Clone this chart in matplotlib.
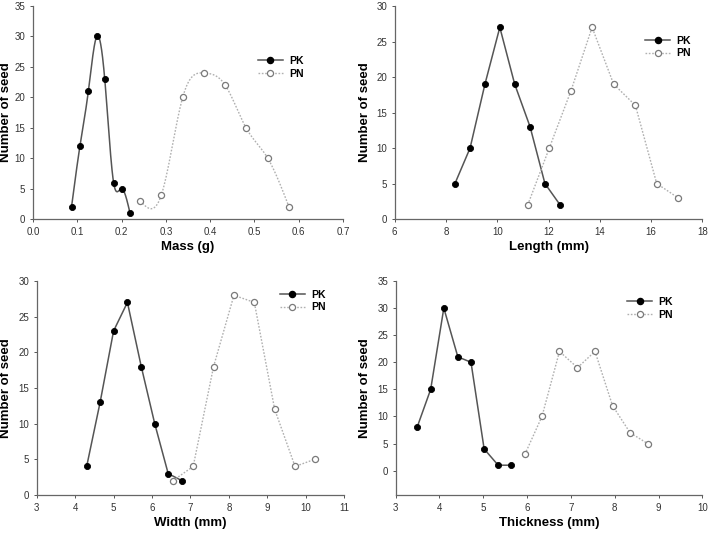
import numpy as np
import matplotlib
matplotlib.use("Agg")
import matplotlib.pyplot as plt

plt.rcParams['font.family'] = ['Liberation Sans', 'DejaVu Sans']

# ---- data ----
mass_pk_x = [0.087, 0.106, 0.125, 0.144, 0.162, 0.182, 0.200, 0.219]
mass_pk_y = [2, 12, 21, 30, 23, 6, 5, 1]
mass_pn_x = [0.242, 0.290, 0.338, 0.385, 0.434, 0.481, 0.530, 0.578]
mass_pn_y = [3, 4, 20, 24, 22, 15, 10, 2]

len_pk_x = [8.35, 8.94, 9.52, 10.10, 10.68, 11.28, 11.86, 12.45]
len_pk_y = [5, 10, 19, 27, 19, 13, 5, 2]
len_pn_x = [11.19, 12.03, 12.87, 13.70, 14.54, 15.39, 16.22, 17.05]
len_pn_y = [2, 10, 18, 27, 19, 16, 5, 3]

wid_pk_x = [4.30, 4.65, 5.00, 5.36, 5.72, 6.07, 6.42, 6.78]
wid_pk_y = [4, 13, 23, 27, 18, 10, 3, 2]
wid_pn_x = [6.54, 7.07, 7.60, 8.13, 8.66, 9.19, 9.72, 10.23]
wid_pn_y = [2, 4, 18, 28, 27, 12, 4, 5]

thk_pk_x = [3.49, 3.80, 4.10, 4.42, 4.72, 5.02, 5.34, 5.64]
thk_pk_y = [8, 15, 30, 21, 20, 4, 1, 1]
thk_pn_x = [5.95, 6.34, 6.74, 7.15, 7.55, 7.95, 8.35, 8.75]
thk_pn_y = [3, 10, 22, 19, 22, 12, 7, 5]

labels = ["PK", "PN"]


def natural_spline(x, y, n=300):
    x = np.asarray(x, float)
    y = np.asarray(y, float)
    m = len(x)
    h = np.diff(x)
    A = np.zeros((m, m))
    b = np.zeros(m)
    A[0, 0] = 1
    A[-1, -1] = 1
    for i in range(1, m - 1):
        A[i, i - 1] = h[i - 1]
        A[i, i] = 2 * (h[i - 1] + h[i])
        A[i, i + 1] = h[i]
        b[i] = 6 * ((y[i + 1] - y[i]) / h[i] - (y[i] - y[i - 1]) / h[i - 1])
    M = np.linalg.solve(A, b)
    xs = np.linspace(x[0], x[-1], n)
    ys = np.empty_like(xs)
    for k, t in enumerate(xs):
        i = min(np.searchsorted(x, t, side='right') - 1, m - 2)
        i = max(i, 0)
        a = x[i + 1] - t
        c = t - x[i]
        ys[k] = (M[i] * a**3 + M[i + 1] * c**3) / (6 * h[i]) \
            + (y[i] / h[i] - M[i] * h[i] / 6) * a \
            + (y[i + 1] / h[i] - M[i + 1] * h[i] / 6) * c
    return xs, ys


fig = plt.figure(figsize=(7.08, 5.33), dpi=100)

pos = [
    [0.0466, 0.589, 0.4379, 0.3997],
    [0.5575, 0.589, 0.4345, 0.3997],
    [0.0518, 0.0713, 0.4345, 0.4015],
    [0.5588, 0.0713, 0.4332, 0.4015],
]

panels = [
    dict(pk=(mass_pk_x, mass_pk_y), pn=(mass_pn_x, mass_pn_y), smooth=True,
         xlim=(0, 0.7), xt=np.arange(0, 0.71, 0.1), xfmt="{:.1f}",
         ylim=(0, 35), yt=range(0, 36, 5), xl="Mass (g)", leg=(0.725, 0.765),
         ylx=-0.068),
    dict(pk=(len_pk_x, len_pk_y), pn=(len_pn_x, len_pn_y), smooth=False,
         xlim=(6, 18), xt=range(6, 19, 2), xfmt="{:d}",
         ylim=(0, 30), yt=range(0, 31, 5), xl="Length (mm)", leg=(0.815, 0.86),
         ylx=-0.078),
    dict(pk=(wid_pk_x, wid_pk_y), pn=(wid_pn_x, wid_pn_y), smooth=False,
         xlim=(3, 11), xt=range(3, 12), xfmt="{:d}",
         ylim=(0, 30), yt=range(0, 31, 5), xl="Width (mm)", leg=(0.79, 0.96),
         ylx=-0.08),
    dict(pk=(thk_pk_x, thk_pk_y), pn=(thk_pn_x, thk_pn_y), smooth=False,
         xlim=(3, 10), xt=range(3, 11), xfmt="{:d}",
         ylim=(-4.5, 35), yt=range(0, 36, 5), xl="Thickness (mm)", leg=(0.755, 0.925),
         ylx=-0.08),
]

pk_line = "#555555"
pn_line = "#b0b0b0"
MS = 4.4

for p, pp in zip(pos, panels):
    ax = fig.add_axes(p)
    for s in ("top", "right"):
        ax.spines[s].set_visible(False)
    for s in ("left", "bottom"):
        ax.spines[s].set_color("#666666")
        ax.spines[s].set_linewidth(0.9)
    (kx, ky), (nx, ny) = pp["pk"], pp["pn"]
    if pp["smooth"]:
        sx, sy = natural_spline(kx, ky)
        ax.plot(sx, sy, color=pk_line, lw=1.1, zorder=2)
        sx, sy = natural_spline(nx, ny)
        ax.plot(sx, sy, color=pn_line, lw=1.0, ls=(0, (1.2, 1.2)), zorder=2)
    else:
        ax.plot(kx, ky, color=pk_line, lw=1.1, zorder=2)
        ax.plot(nx, ny, color=pn_line, lw=1.0, ls=(0, (1.2, 1.2)), zorder=2)
    ax.plot(kx, ky, ls="none", marker="o", ms=MS, mfc="black", mec="black",
            mew=0.6, zorder=3)
    ax.plot(nx, ny, ls="none", marker="o", ms=MS, mfc="white", mec="#7a7a7a",
            mew=0.9, zorder=3)
    h1, = ax.plot([], [], color=pk_line, lw=1.1, marker="o", ms=MS,
                  mfc="black", mec="black")
    h2, = ax.plot([], [], color=pn_line, lw=1.0, ls=(0, (1.2, 1.2)),
                  marker="o", ms=MS, mfc="white", mec="#7a7a7a", mew=0.9)
    ax.legend([h1, h2], labels, loc="upper left", bbox_to_anchor=pp["leg"],
              frameon=False, prop=dict(weight="bold", size=7.5),
              handlelength=2.4, handletextpad=0.6, borderpad=0,
              borderaxespad=0, labelspacing=0.25)
    ax.set_xlim(*pp["xlim"])
    ax.set_ylim(*pp["ylim"])
    ax.set_xticks(list(pp["xt"]))
    ax.set_xticklabels([pp["xfmt"].format(round(v, 1) if isinstance(v, float) else int(v))
                        for v in pp["xt"]])
    ax.set_yticks(list(pp["yt"]))
    ax.tick_params(axis="both", labelsize=7, colors="#555555", labelcolor="#333333",
                   length=2.5, width=0.7, direction="out", pad=3)
    ax.set_xlabel(pp["xl"], fontsize=9.5, fontweight="bold")
    ax.set_ylabel("Number of seed", fontsize=9.5, fontweight="bold")
    ax.xaxis.set_label_coords(0.5, -0.105)
    ax.yaxis.set_label_coords(pp["ylx"], 0.5)

fig.savefig("out.png", dpi=100)
